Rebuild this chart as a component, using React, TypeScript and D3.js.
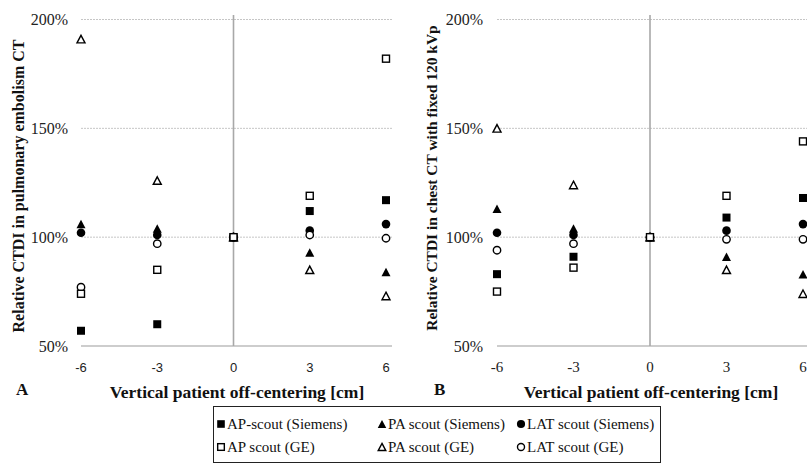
import React from "react";
import * as d3 from "d3";

const offsets = [-6, -3, 0, 3, 6];
const yTicks = [50, 100, 150, 200];

// Panel A: pulmonary embolism CT
const apSiemensA = [57, 60, 100, 112, 117];
const paSiemensA = [106, 104, 100, 93, 84];
const latSiemensA = [102, 101, 100, 103, 106];
const apGEA = [74, 85, 100, 119, 182];
const paGEA = [191, 126, 100, 85, 73];
const latGEA = [77, 97, 100, 101, 99.5];

// Panel B: chest CT with fixed 120 kVp
const apSiemensB = [83, 91, 100, 109, 118];
const paSiemensB = [113, 104, 100, 91, 83];
const latSiemensB = [102, 101, 100, 103, 106];
const apGEB = [75, 86, 100, 119, 144];
const paGEB = [150, 124, 100, 85, 74];
const latGEB = [94, 97, 100, 99, 99];

const seriesNames = [
  "AP-scout (Siemens)",
  "PA scout (Siemens)",
  "LAT scout (Siemens)",
  "AP scout (GE)",
  "PA scout (GE)",
  "LAT scout (GE)",
];

const SERIF = "Liberation Serif";
const SANS = "Liberation Sans";

type Shape = "square" | "triangle" | "circle";
const shapeOf: Shape[] = ["square", "triangle", "circle", "square", "triangle", "circle"];
const filledOf = [true, true, true, false, false, false];

function Marker({ shape, filled, x, y, s = 1 }: { shape: Shape; filled: boolean; x: number; y: number; s?: number }) {
  const fill = filled ? "#000" : "#fff";
  const sw = filled ? 0 : 1.4;
  if (shape === "square") {
    const h = (filled ? 8 : 7) * s;
    return <rect x={x - h / 2} y={y - h / 2} width={h} height={h} fill={fill} stroke="#000" strokeWidth={sw} />;
  }
  if (shape === "circle") {
    const r = (filled ? 4.3 : 3.7) * s;
    return <circle cx={x} cy={y} r={r} fill={fill} stroke="#000" strokeWidth={sw} />;
  }
  const w = (filled ? 9 : 8) * s;
  const h = (filled ? 8.5 : 7.5) * s;
  const p = `M${x},${y - h / 2}L${x + w / 2},${y + h / 2}L${x - w / 2},${y + h / 2}Z`;
  return <path d={p} fill={fill} stroke="#000" strokeWidth={sw} strokeLinejoin="miter" />;
}

function Panel({
  series,
  x0,
  x1,
  gridEnd,
  yTitle,
  yTitleX,
  yTitleY,
  yTitleSize,
  tickLabelEnd,
  xTickFont,
  letter,
  letterX,
  xTitleX,
}: {
  series: number[][];
  x0: number;
  x1: number;
  gridEnd: number;
  yTitle: string;
  yTitleX: number;
  yTitleY: number;
  yTitleSize: number;
  tickLabelEnd: number;
  xTickFont: string;
  letter: string;
  letterX: number;
  xTitleX: number;
}) {
  const x = d3.scaleLinear().domain([-6, 6]).range([x0, x1]);
  const y = d3.scaleLinear().domain([50, 200]).range([346, 19.5]);
  const drawOrder = [0, 1, 2, 4, 5, 3];
  return (
    <g>
      {yTicks.map((t) => (
        <g key={t}>
          <line
            x1={x0}
            x2={gridEnd}
            y1={y(t)}
            y2={y(t)}
            stroke={t === 50 ? "#bdbdbd" : "#c6c6c6"}
            strokeWidth={t === 50 ? 1.3 : 1}
            strokeDasharray={t === 50 ? undefined : "2,1"}
          />
          <text
            x={tickLabelEnd}
            y={y(t)}
            dy="0.35em"
            textAnchor="end"
            fontFamily={SERIF}
            fontSize={16}
            fill="#222"
          >
            {t}%
          </text>
        </g>
      ))}
      <line x1={x(0)} x2={x(0)} y1={15} y2={346} stroke="#a8a8a8" strokeWidth={1.6} />
      {offsets.map((o) => (
        <text
          key={o}
          x={x(o)}
          y={372}
          textAnchor="middle"
          fontFamily={xTickFont}
          fontSize={xTickFont === SANS ? 13 : 15}
          fill="#222"
        >
          {o}
        </text>
      ))}
      {drawOrder.map((si) =>
        series[si].map((v, i) => (
          <Marker key={`${si}-${i}`} shape={shapeOf[si]} filled={filledOf[si]} x={x(offsets[i])} y={y(v)} />
        ))
      )}
      <text
        transform={`translate(${yTitleX},${yTitleY}) rotate(-90)`}
        textAnchor="middle"
        dy="0.35em"
        fontFamily={SERIF}
        fontWeight="bold"
        fontSize={yTitleSize}
        fill="#111"
      >
        {yTitle}
      </text>
      <text x={letterX} y={395} fontFamily={SERIF} fontWeight="bold" fontSize={17} fill="#111">
        {letter}
      </text>
      <text x={xTitleX} y={397.5} textAnchor="middle" fontFamily={SERIF} fontWeight="bold" fontSize={17.5} fill="#111">
        Vertical patient off-centering [cm]
      </text>
    </g>
  );
}

export default function App() {
  const seriesA = [apSiemensA, paSiemensA, latSiemensA, apGEA, paGEA, latGEA];
  const seriesB = [apSiemensB, paSiemensB, latSiemensB, apGEB, paGEB, latGEB];
  const legendCols = [221, 382, 521];
  const legendRows = [424, 447];
  return (
    <svg
      width={807}
      height={464}
      style={{ position: "absolute", left: 0, top: 0, background: "#fff" }}
    >
      <rect width={807} height={464} fill="#fff" />
      <Panel
        series={seriesA}
        x0={81}
        x1={386}
        gridEnd={392}
        yTitle="Relative CTDI in pulmonary embolism CT"
        yTitleX={18}
        yTitleY={186}
        yTitleSize={16}
        tickLabelEnd={68}
        xTickFont={SANS}
        letter="A"
        letterX={16}
        xTitleX={237}
      />
      <Panel
        series={seriesB}
        x0={497}
        x1={803}
        gridEnd={807}
        yTitle="Relative CTDI in chest CT with fixed 120 kVp"
        yTitleX={432}
        yTitleY={178}
        yTitleSize={15.5}
        tickLabelEnd={483}
        xTickFont={SERIF}
        letter="B"
        letterX={434}
        xTitleX={651}
      />
      <rect x={213.5} y={406.5} width={447} height={56} fill="none" stroke="#222" strokeWidth={1} />
      {seriesNames.map((name, i) => {
        const col = i % 3;
        const row = Math.floor(i / 3);
        const cx = legendCols[col];
        const cy = legendRows[row];
        return (
          <g key={name}>
            <Marker shape={shapeOf[i]} filled={filledOf[i]} x={cx} y={cy} s={0.95} />
            <text x={cx + 6} y={cy} dy="0.35em" fontFamily={SERIF} fontSize={15} fill="#111">
              {name}
            </text>
          </g>
        );
      })}
    </svg>
  );
}
